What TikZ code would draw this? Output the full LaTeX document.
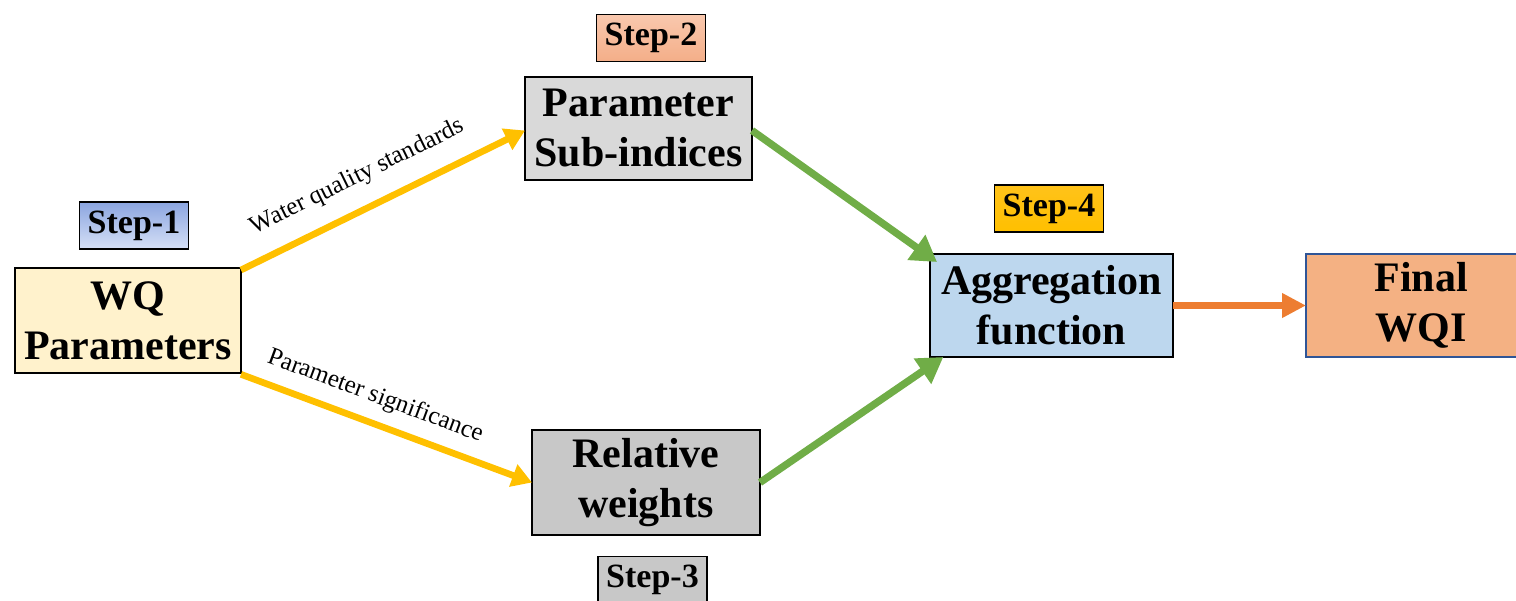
\documentclass[tikz,border=0pt]{standalone}
\usepackage{fontspec}
\setmainfont{Liberation Serif}
\usetikzlibrary{arrows.meta}

\definecolor{wqfill}{HTML}{FFF2CC}
\definecolor{subfill}{HTML}{D9D9D9}
\definecolor{relfill}{HTML}{C8C8C8}
\definecolor{aggfill}{HTML}{BDD7EE}
\definecolor{finfill}{HTML}{F4B183}
\definecolor{findraw}{HTML}{2F5597}
\definecolor{arrYellow}{HTML}{FFC000}
\definecolor{arrGreen}{HTML}{70AD47}
\definecolor{arrOrange}{HTML}{ED7D31}
\definecolor{s1top}{HTML}{8BA5E0}
\definecolor{s1bot}{HTML}{D6E0F6}
\definecolor{s2top}{HTML}{F9C8AE}
\definecolor{s2bot}{HTML}{F4AE88}
\definecolor{s4top}{HTML}{FFC21A}
\definecolor{s4bot}{HTML}{FFC000}

\tikzset{
  mainbox/.style={draw=black, line width=1.5pt, inner sep=0pt, outer sep=0pt,
    align=center, font=\fontsize{31.5}{37.5}\selectfont\bfseries},
  stepbox/.style={draw=black, line width=1.1pt, inner sep=0pt, outer sep=0pt,
    minimum width=82pt, minimum height=35.5pt,
    font=\fontsize{25.5}{30}\selectfont\bfseries},
  flowlabel/.style={sloped, inner sep=0pt, font=\fontsize{18.7}{22}\selectfont},
  yellowarrow/.style={draw=arrYellow, line width=5pt,
    -{Triangle[length=15pt,width=17pt]}},
  greenarrow/.style={draw=arrGreen, line width=5.5pt,
    -{Triangle[length=19pt,width=22pt]}},
  orangearrow/.style={draw=arrOrange, line width=5.25pt,
    -{Triangle[length=18pt,width=17.5pt]}}
}

\begin{document}
\begin{tikzpicture}[x=0.75pt,y=-0.75pt]
\useasboundingbox (0,0) rectangle (1516,600);

% main process boxes
\node[mainbox, fill=wqfill, minimum width=169.5pt, minimum height=78.75pt]
  (wq) at (128,320.5) {WQ\\Parameters};
\node[mainbox, fill=subfill, minimum width=170.25pt, minimum height=77.25pt]
  (psi) at (638.5,128.5) {Parameter\\Sub-indices};
\node[mainbox, fill=relfill, minimum width=171pt, minimum height=78.75pt]
  (rw) at (646,482.5) {Relative\\weights};
\node[mainbox, fill=aggfill, minimum width=182.25pt, minimum height=77.25pt]
  (agg) at (1051.5,305.5) {Aggregation\\function};
\node[mainbox, draw=findraw, fill=finfill, minimum width=172.5pt, minimum height=77.25pt]
  (fin) at (1421,305.5) {Final\\WQI};

% step tags
\node[stepbox, top color=s1top, bottom color=s1bot] (st1) at (134,225.5) {Step-1};
\node[stepbox, top color=s2top, bottom color=s2bot] (st2) at (651,38) {Step-2};
\node[stepbox, fill=relfill] (st3) at (652.5,580) {Step-3};
\node[stepbox, top color=s4top, bottom color=s4bot] (st4) at (1049,208.5) {Step-4};

% connectors
\draw[yellowarrow] ([yshift=-1.5]wq.north east) -- ([yshift=-1.5]psi.west)
  node[flowlabel, pos=0.46, above=13pt] {Water quality standards};
\draw[yellowarrow] ([yshift=-1]wq.south east) -- (rw.west)
  node[flowlabel, pos=0.43, above=8.5pt] {Parameter significance};
\draw[greenarrow] ([yshift=-1.5]psi.east) -- ([shift={(7,8)}]agg.north west);
\draw[greenarrow] (rw.east) -- ([xshift=10]agg.south west);
\draw[orangearrow] (agg.east) -- (fin.west);
\end{tikzpicture}
\end{document}
